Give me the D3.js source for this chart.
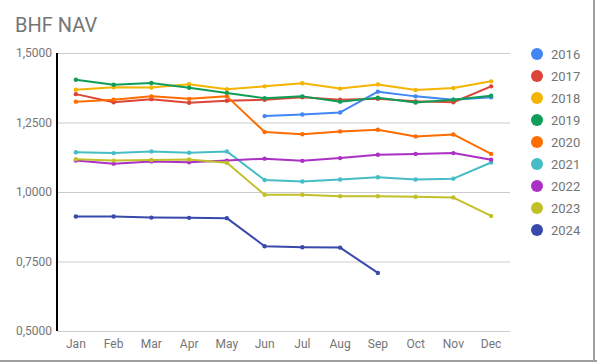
<!DOCTYPE html>
<html>
<head>
<meta charset="utf-8">
<script src="https://cdn.jsdelivr.net/npm/d3@7"></script>
<style>
  body { margin: 0; background: #fff; }
  svg { display: block; font-family: Roboto, sans-serif; }
</style>
</head>
<body>
<div id="chart"></div>
<script>
'use strict';

const months = ['Jan', 'Feb', 'Mar', 'Apr', 'May', 'Jun', 'Jul', 'Aug', 'Sep', 'Oct', 'Nov', 'Dec'];
const years = ['2016', '2017', '2018', '2019', '2020', '2021', '2022', '2023', '2024'];
const yTicks = [0.5, 0.75, 1.0, 1.25, 1.5];

const nav2016 = [null, null, null, null, null, 1.273, 1.279, 1.286, 1.361, 1.344, 1.332, 1.341];
const nav2017 = [1.352, 1.323, 1.334, 1.321, 1.328, 1.332, 1.341, 1.332, 1.335, 1.326, 1.323, 1.380];
const nav2018 = [1.368, 1.377, 1.376, 1.388, 1.370, 1.380, 1.391, 1.372, 1.387, 1.367, 1.374, 1.398];
const nav2019 = [1.404, 1.386, 1.392, 1.375, 1.356, 1.337, 1.344, 1.325, 1.339, 1.322, 1.332, 1.346];
const nav2020 = [1.325, 1.332, 1.344, 1.335, 1.344, 1.216, 1.208, 1.218, 1.224, 1.200, 1.207, 1.137];
const nav2021 = [1.143, 1.140, 1.146, 1.141, 1.146, 1.043, 1.038, 1.045, 1.053, 1.045, 1.048, 1.106];
const nav2022 = [1.113, 1.102, 1.110, 1.107, 1.113, 1.120, 1.112, 1.122, 1.134, 1.137, 1.140, 1.116];
const nav2023 = [1.118, 1.113, 1.115, 1.117, 1.105, 0.990, 0.990, 0.985, 0.985, 0.983, 0.980, 0.914];
const nav2024 = [0.912, 0.912, 0.908, 0.907, 0.906, 0.805, 0.801, 0.800, 0.709, null, null, null];

const series = [nav2016, nav2017, nav2018, nav2019, nav2020, nav2021, nav2022, nav2023, nav2024];
const colors = ['#4285F4', '#DB4437', '#F4B400', '#0F9D58', '#FF6D00', '#46BDC6', '#AB30C4', '#C2C02A', '#3949AB'];

const W = 597;
const H = 362;
const plot = { left: 57, right: 510, top: 53, bottom: 331 };

const svg = d3.select('#chart')
  .append('svg')
  .attr('width', W)
  .attr('height', H);

// frame lines on the right and bottom edge
svg.append('line')
  .attr('x1', 594).attr('x2', 594).attr('y1', 0).attr('y2', H)
  .attr('stroke', '#9e9e9e').attr('stroke-width', 2);
svg.append('line')
  .attr('x1', 0).attr('x2', W).attr('y1', 361).attr('y2', 361)
  .attr('stroke', '#9e9e9e').attr('stroke-width', 2);

svg.append('text')
  .attr('x', 15)
  .attr('y', 32)
  .attr('fill', '#757575')
  .style('font-size', '20px')
  .text('BHF NAV');

const xScale = d3.scaleBand()
  .domain(months)
  .range([plot.left, plot.right]);

const yScale = d3.scaleLinear()
  .domain([0.5, 1.5])
  .range([plot.bottom, plot.top]);

const fmt = (v) => d3.format('.4f')(v).replace('.', ',');

// grid
svg.append('g')
  .attr('transform', `translate(${plot.left}, 0)`)
  .call(d3.axisLeft(yScale)
    .tickValues(yTicks)
    .tickSize(-(plot.right - plot.left))
    .tickFormat(fmt)
    .tickPadding(5))
  .call(g => g.select('.domain').remove())
  .call(g => g.selectAll('.tick line').attr('stroke', '#cccccc'))
  .call(g => g.selectAll('.tick text')
    .attr('fill', '#757575')
    .style('font-size', '12px')
    .style('font-family', 'Roboto, sans-serif'));

// x axis labels
svg.append('g')
  .attr('transform', `translate(0, ${plot.bottom})`)
  .call(d3.axisBottom(xScale).tickSize(0).tickPadding(8))
  .call(g => g.select('.domain').remove())
  .call(g => g.selectAll('.tick text')
    .attr('fill', '#757575')
    .style('font-size', '12px')
    .style('font-family', 'Roboto, sans-serif'));

// y axis baseline
svg.append('line')
  .attr('x1', plot.left).attr('x2', plot.left)
  .attr('y1', plot.top).attr('y2', plot.bottom)
  .attr('stroke', '#000').attr('stroke-width', 2);

const xPos = (i) => xScale(months[i]) + xScale.bandwidth() / 2;

const line = d3.line()
  .defined(d => d !== null)
  .x((d, i) => xPos(i))
  .y(d => yScale(d));

series.forEach((values, k) => {
  const g = svg.append('g');
  g.append('path')
    .datum(values)
    .attr('fill', 'none')
    .attr('stroke', colors[k])
    .attr('stroke-width', 2)
    .attr('stroke-linejoin', 'round')
    .attr('d', line);
  g.selectAll('circle')
    .data(values.map((v, i) => ({ v, i })).filter(d => d.v !== null))
    .enter()
    .append('circle')
    .attr('cx', d => xPos(d.i))
    .attr('cy', d => yScale(d.v))
    .attr('r', 2.2)
    .attr('fill', colors[k]);
});

// legend
const legend = svg.append('g')
  .attr('transform', 'translate(537, 54)');

const items = legend.selectAll('g')
  .data(years)
  .enter()
  .append('g')
  .attr('transform', (d, i) => `translate(0, ${i * 22})`);

items.append('circle')
  .attr('r', 6)
  .attr('fill', (d, i) => colors[i]);

items.append('text')
  .attr('x', 14)
  .attr('y', 4.5)
  .attr('fill', '#757575')
  .style('font-size', '13px')
  .text(d => d);
</script>
</body>
</html>
